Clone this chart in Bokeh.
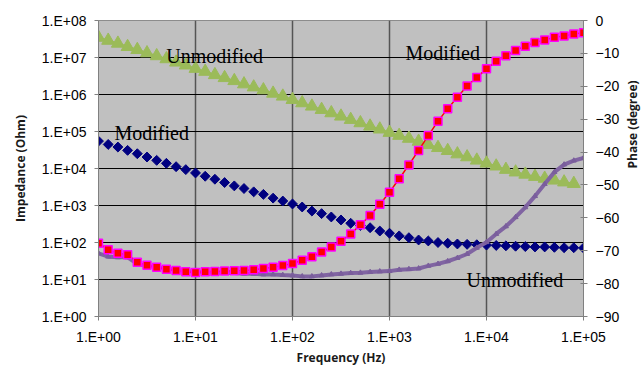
import math
from bokeh.plotting import figure
from bokeh.models import Range1d, LinearAxis, LinearScale, FixedTicker, Label
from bokeh.embed import file_html
from bokeh.resources import INLINE

# ---------------- data ----------------
freq_hz = [1, 1.259, 1.585, 1.995, 2.512, 3.162, 3.981, 5.012, 6.31, 7.943,
           10, 12.59, 15.85, 19.95, 25.12, 31.62, 39.81, 50.12, 63.1, 79.43,
           100, 125.9, 158.5, 199.5, 251.2, 316.2, 398.1, 501.2, 631, 794.3,
           1000, 1259, 1585, 1995, 2512, 3162, 3981, 5012, 6310, 7943,
           10000, 12589, 15849, 19953, 25119, 31623, 39811, 50119, 63096, 79433,
           100000]

# Unmodified impedance (Ohm) - green triangles (50 points, 1 Hz .. 79 kHz)
unmod_impedance = [3.47e7, 2.88e7, 2.40e7, 1.95e7, 1.62e7, 1.32e7, 1.10e7, 9.12e6, 7.41e6, 6.17e6,
                   5.01e6, 4.17e6, 3.39e6, 2.82e6, 2.34e6, 1.91e6, 1.58e6, 1.32e6, 1.07e6, 8.91e5,
                   7.24e5, 5.89e5, 4.79e5, 3.89e5, 3.16e5, 2.57e5, 2.09e5, 1.70e5, 1.38e5, 1.15e5,
                   9.33e4, 7.76e4, 6.46e4, 5.37e4, 4.37e4, 3.63e4, 3.02e4, 2.45e4, 2.04e4, 1.66e4,
                   1.38e4, 1.15e4, 9.33e3, 7.94e3, 6.92e3, 6.03e3, 5.37e3, 4.79e3, 4.27e3, 3.89e3]

# Modified impedance (Ohm) - navy diamonds
mod_impedance = [5.50e4, 4.47e4, 3.80e4, 3.09e4, 2.51e4, 2.04e4, 1.66e4, 1.38e4, 1.12e4, 9.33e3,
                 7.59e3, 6.17e3, 5.13e3, 4.17e3, 3.39e3, 2.88e3, 2.34e3, 2.00e3, 1.58e3, 1.32e3,
                 1.10e3, 912, 708, 603, 490, 407, 331, 288, 251, 204,
                 178, 151, 135, 117, 110, 100, 95.5, 91.2, 89.1, 87.1,
                 85.1, 83.2, 81.3, 79.4, 77.6, 75.9, 75.9, 74.1, 72.4, 72.4, 70.8]

# Modified phase (degree) - red squares
mod_phase = [-67.7, -69.7, -70.8, -71.2, -73.5, -74.4, -75.0, -75.6, -76.0, -76.4,
             -76.6, -76.4, -76.3, -76.2, -76.1, -76.0, -75.8, -75.4, -75.0, -74.5,
             -73.9, -72.9, -71.8, -70.4, -68.9, -67.1, -64.9, -62.1, -59.3, -55.9,
             -52.2, -48.1, -43.9, -39.5, -35.0, -30.6, -26.8, -23.3, -19.9, -17.3,
             -14.7, -12.4, -10.7, -9.1, -7.8, -6.7, -5.9, -5.1, -4.7, -4.1, -3.7]

# Unmodified phase (degree) - purple line
unmod_phase = [-70.8, -71.8, -72.0, -72.0, -74.0, -74.6, -75.0, -75.4, -75.8, -76.2,
               -76.4, -76.6, -76.6, -76.8, -76.8, -77.0, -77.0, -77.2, -77.2, -77.4,
               -77.5, -77.8, -77.8, -77.5, -77.2, -77.0, -76.8, -76.7, -76.5, -76.3,
               -76.2, -75.8, -75.6, -75.4, -74.6, -74.0, -73.2, -72.2, -71.0, -69.1,
               -67.4, -64.9, -62.6, -59.8, -56.8, -53.4, -49.7, -46.1, -43.8, -42.6, -41.8]

x_ticks = [1, 10, 100, 1000, 10000, 100000]
x_tick_labels = ["1.E+00", "1.E+01", "1.E+02", "1.E+03", "1.E+04", "1.E+05"]
y_ticks = [1, 10, 100, 1000, 10000, 100000, 1000000, 10000000, 100000000]
y_tick_labels = ["1.E+00", "1.E+01", "1.E+02", "1.E+03", "1.E+04", "1.E+05",
                 "1.E+06", "1.E+07", "1.E+08"]
phase_ticks = [-90, -80, -70, -60, -50, -40, -30, -20, -10, 0]

# ---------------- figure ----------------
p = figure(frame_width=485, frame_height=296, x_axis_type="log", y_axis_type="log",
           x_range=Range1d(1, 1e5), y_range=Range1d(1, 1e8),
           output_backend="svg", toolbar_location=None,
           min_border_left=98, min_border_right=58, min_border_top=20, min_border_bottom=49,
           background_fill_color="#C0C0C0", border_fill_color="white",
           outline_line_color="#8C8C8C")
p.extra_y_ranges = {"phase": Range1d(-90, 0)}
p.extra_y_scales = {"phase": LinearScale()}

tick_font = "Liberation Sans"
label_font = "Open Sans"

# x axis
p.xaxis.ticker = FixedTicker(ticks=x_ticks, minor_ticks=[])
p.xaxis.major_label_overrides = dict(zip(x_ticks, x_tick_labels))
p.xaxis.axis_label = "Frequency (Hz)"
# y axis
p.yaxis.ticker = FixedTicker(ticks=y_ticks, minor_ticks=[])
p.yaxis.major_label_overrides = dict(zip(y_ticks, y_tick_labels))
p.yaxis.axis_label = "Impedance (Ohm)"

# right axis (phase)
ra = LinearAxis(y_range_name="phase", ticker=FixedTicker(ticks=phase_ticks, minor_ticks=[]))
ra.axis_label = "Phase (degree)"
p.add_layout(ra, "right")

for ax in (p.xaxis[0], p.yaxis[0], ra):
    ax.axis_line_color = "#808080"
    ax.axis_line_width = 1
    ax.major_tick_line_color = "#808080"
    ax.major_tick_out = 4
    ax.major_tick_in = 0
    ax.minor_tick_line_color = None
    ax.major_label_text_font = tick_font
    ax.major_label_text_font_size = "14px"
    ax.major_label_text_color = "black"
    ax.axis_label_text_font = label_font
    ax.axis_label_text_font_size = "12px"
    ax.axis_label_text_font_style = "bold"
    ax.axis_label_text_color = "#1a1a1a"

ra.axis_label_orientation = math.pi / 2
ra.major_tick_in = 3
ra.major_label_standoff = 5
ra.axis_label_standoff = 11
p.xaxis.major_label_standoff = 8
p.xaxis.axis_label_standoff = 1
p.yaxis.major_label_standoff = 8
p.yaxis.axis_label_standoff = 10

# grids
p.xgrid.grid_line_color = "#555555"
p.xgrid.grid_line_width = 1.5
p.ygrid.grid_line_color = "#000000"
p.ygrid.grid_line_width = 1

# ---------------- series ----------------
gx = freq_hz[:len(unmod_impedance)]
p.line(gx, unmod_impedance, line_color="#9BBB59", line_width=2)
p.scatter(gx, unmod_impedance, marker="triangle", size=13,
          fill_color="#9BBB59", line_color="#9BBB59")

p.scatter(freq_hz, mod_impedance, marker="square", angle=math.pi / 4, size=7,
          fill_color="#000080", line_color="#000080")

p.line(freq_hz, unmod_phase, y_range_name="phase", line_color="#8064A2", line_width=4)
p.scatter(freq_hz, unmod_phase, y_range_name="phase", marker="triangle", size=5,
          fill_color="#7A5E9C", line_color="#7A5E9C")

p.line(freq_hz, mod_phase, y_range_name="phase", line_color="#FF0000", line_width=1.5)
p.scatter(freq_hz, mod_phase, y_range_name="phase", marker="square", size=8,
          fill_color="#FF0000", line_color="#FF00FF", line_width=1.5)

# ---------------- annotations ----------------
serif = "Liberation Serif"
for (lx, ly, txt) in [(5.0, 1.12e7, "Unmodified"), (1462, 1.29e7, "Modified"),
                      (1.46, 8.9e4, "Modified"), (6220, 10, "Unmodified")]:
    p.add_layout(Label(x=lx, y=ly, text=txt, text_font=serif, text_font_size="20px",
                       text_color="black", text_align="left", text_baseline="alphabetic"))

open("out.html", "w").write(file_html(p, INLINE))
